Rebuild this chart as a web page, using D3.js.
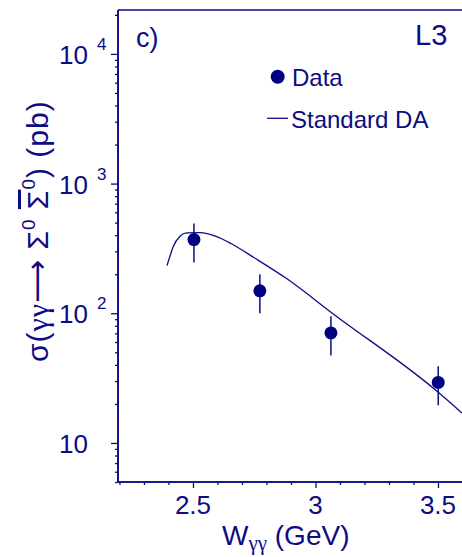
<!DOCTYPE html>
<html>
<head>
<meta charset="utf-8">
<script src="https://cdn.jsdelivr.net/npm/d3@7"></script>
<style>
  body { margin: 0; background: #fff; }
  svg { display: block; }
  text { font-family: "Liberation Sans", Arial, sans-serif; fill: #0c0c84; }
  .greek { font-family: "Liberation Serif", "Times New Roman", serif; }
  .arrow { font-family: "DejaVu Sans", sans-serif; }
</style>
</head>
<body>
<svg id="chart"></svg>
<script>
// measured points
const dataW = [2.504, 2.773, 3.063, 3.501];
const dataSigma = [370, 149, 70.5, 29.3];
const errLow = [246, 100, 47.2, 19.5];
const errHigh = [492, 200, 95, 39];

// standard DA prediction
const daW = [2.394, 2.406, 2.420, 2.447, 2.474, 2.529, 2.597, 2.655, 2.75, 2.888, 3.063, 3.50, 3.598];
const daSigma = [233, 275, 329, 393, 417, 419, 390, 345, 268, 182, 102, 24.7, 17.0];

const xMajor = [2.5, 3, 3.5];
const xMinor = [2.2, 2.3, 2.4, 2.6, 2.7, 2.8, 2.9, 3.1, 3.2, 3.3, 3.4, 3.6];
const yMajor = [10, 100, 1000, 10000];
const yExp = ["", "2", "3", "4"];

const W = 462, H = 557;
const margin = { top: 10, right: 0, bottom: 75, left: 118 };
const navy = "#0c0c84";

const svg = d3.select("#chart").attr("width", W).attr("height", H);

const x = d3.scaleLinear().domain([2.194, 3.598]).range([margin.left, W - margin.right]);
const y = d3.scaleLog().domain([5, 21800]).range([H - margin.bottom, margin.top]);

// minor log ticks
const yMinor = [];
[1, 10, 100, 1000, 10000].forEach(d => {
    for (let k = 2; k <= 9; k++) {
        const v = d * k;
        if (v >= 5 && v <= 21800) yMinor.push(v);
    }
});

// axes
const xAxisG = svg.append("g").attr("transform", `translate(0,${y.range()[0]})`);
xAxisG.call(d3.axisBottom(x).tickValues(xMajor).tickSize(6).tickFormat(""));
xAxisG.append("g").call(d3.axisBottom(x).tickValues(xMinor).tickSize(3).tickFormat(""));

const yAxisG = svg.append("g").attr("transform", `translate(${margin.left},0)`);
yAxisG.call(d3.axisLeft(y).tickValues(yMajor).tickSize(7).tickFormat(""));
yAxisG.append("g").call(d3.axisLeft(y).tickValues(yMinor).tickSize(3).tickFormat(""));

svg.selectAll(".domain").attr("stroke", navy).attr("stroke-width", 1.6);
svg.selectAll(".tick line").attr("stroke", navy).attr("stroke-width", 1.3);
// plain axis lines, no outer ticks
xAxisG.selectAll(".domain").attr("d", `M${x.range()[0]},0H${x.range()[1]}`);
yAxisG.selectAll(".domain").attr("d", `M0,${y.range()[0]}V${y.range()[1]}`);

// top frame
svg.append("line")
    .attr("x1", margin.left).attr("x2", W)
    .attr("y1", margin.top).attr("y2", margin.top)
    .attr("stroke", navy).attr("stroke-width", 1.6);

// x tick labels
svg.selectAll(".xlab")
    .data(xMajor)
    .join("text")
    .attr("x", d => x(d))
    .attr("y", 514)
    .attr("text-anchor", "middle")
    .attr("font-size", 26)
    .text(d => d);

// y tick labels
yMajor.forEach((d, i) => {
    svg.append("text")
        .attr("x", 88)
        .attr("y", y(d) + 10)
        .attr("text-anchor", "end")
        .attr("font-size", 26)
        .text("10");
    if (yExp[i]) {
        svg.append("text")
            .attr("x", 97)
            .attr("y", y(d) - 4)
            .attr("font-size", 17)
            .text(yExp[i]);
    }
});

// axis titles
const xt = svg.append("text").attr("x", 222).attr("y", 545).attr("font-size", 28);
xt.append("tspan").text("W");
xt.append("tspan").attr("class", "greek").attr("font-size", 21).attr("dy", 5).text("γγ");
xt.append("tspan").attr("dy", -5).text(" (GeV)");

const yt = svg.append("text")
    .attr("transform", "translate(48,362) rotate(-90)")
    .attr("font-size", 30)
    .attr("letter-spacing", 1);
yt.append("tspan").text("σ(");
yt.append("tspan").attr("class", "greek").text("γγ");
yt.append("tspan").attr("class", "arrow").attr("dy", -1).text("⟶");
yt.append("tspan").attr("dy", 1).text(" Σ");
yt.append("tspan").attr("font-size", 19).attr("dy", -13).text("0");
yt.append("tspan").attr("dy", 13).text(" ");
yt.append("tspan").style("text-decoration", "overline").text("Σ");
yt.append("tspan").attr("font-size", 19).attr("dy", -13).text("0");
yt.append("tspan").attr("dy", 13).text(") (pb)");

// labels
svg.append("text").attr("x", 136).attr("y", 47).attr("font-size", 27).text("c)");
svg.append("text").attr("x", 415).attr("y", 45).attr("font-size", 29).text("L3");

// legend
svg.append("circle").attr("cx", 277.7).attr("cy", 76.7).attr("r", 7).attr("fill", "#000080");
svg.append("text").attr("x", 292).attr("y", 85.5).attr("font-size", 24).text("Data");
svg.append("line").attr("x1", 267).attr("x2", 288).attr("y1", 118.3).attr("y2", 118.3)
    .attr("stroke", navy).attr("stroke-width", 1.3);
svg.append("text").attr("x", 291).attr("y", 128).attr("font-size", 24).text("Standard DA");

// DA curve
const line = d3.line()
    .x((d, i) => x(daW[i]))
    .y(d => y(d))
    .curve(d3.curveMonotoneX);
svg.append("path")
    .datum(daSigma)
    .attr("d", line)
    .attr("fill", "none")
    .attr("stroke", navy)
    .attr("stroke-width", 1.3);

// error bars and points
svg.selectAll(".err")
    .data(dataW)
    .join("line")
    .attr("x1", d => x(d)).attr("x2", d => x(d))
    .attr("y1", (d, i) => y(errLow[i]))
    .attr("y2", (d, i) => y(errHigh[i]))
    .attr("stroke", navy)
    .attr("stroke-width", 1.5);

svg.selectAll(".pt")
    .data(dataW)
    .join("circle")
    .attr("cx", d => x(d))
    .attr("cy", (d, i) => y(dataSigma[i]))
    .attr("r", 6.5)
    .attr("fill", "#000080");
</script>
</body>
</html>
